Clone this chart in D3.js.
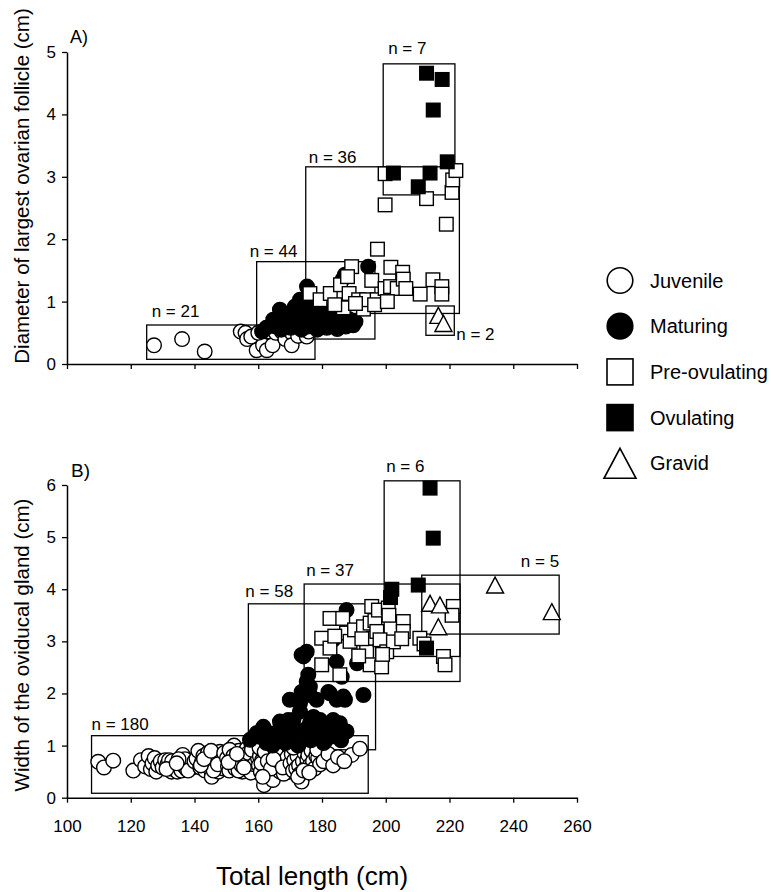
<!DOCTYPE html>
<html>
<head>
<meta charset="utf-8">
<script src="https://cdn.jsdelivr.net/npm/d3@7"></script>
<style>
body { margin: 0; background: #fff; }
svg { font-family: "Liberation Sans", Arial, Helvetica, sans-serif; }
</style>
</head>
<body>
<svg width="779" height="892"></svg>
<script>

var lengthTicks = [100, 120, 140, 160, 180, 200, 220, 240, 260];
var follicleTicks = [0, 1, 2, 3, 4, 5];
var glandTicks = [0, 1, 2, 3, 4, 5, 6];
var stages = ["Juvenile", "Maturing", "Pre-ovulating", "Ovulating", "Gravid"];

// panel A : [total length, diameter of largest follicle]
var aJuvenile = [[127.3,0.30],[136.1,0.40],[143.2,0.20],[154.5,0.52],[156.0,0.50],[156.5,0.40],[157.8,0.44],
	[159.5,0.22],[161.5,0.30],[162.7,0.22],[163.5,0.52],[164.5,0.30],[165.5,0.50],[167.4,0.52],[168.5,0.40],
	[170.5,0.50],[170.5,0.30],[172.5,0.45],[175.2,0.44],[175.8,0.52],[160.0,0.50]];
var aMaturing = [[161.2,0.52],[162.5,0.58],[164.7,0.71],[165.5,0.60],[166.8,0.87],[167.2,0.55],[168.0,0.72],
	[168.8,0.62],[169.5,0.80],[170.2,0.58],[170.8,0.70],[171.5,0.92],[172.0,0.62],[172.6,0.78],[173.1,1.03],
	[173.5,0.55],[174.2,0.68],[174.8,0.88],[175.3,1.24],[175.6,0.60],[176.2,0.75],[176.8,0.98],[177.4,0.65],
	[178.0,0.82],[178.5,0.55],[179.0,0.70],[179.6,0.90],[180.2,0.62],[180.8,0.78],[181.5,0.58],[182.0,0.68],
	[182.6,0.85],[183.2,0.62],[184.0,0.74],[184.8,0.56],[185.5,0.66],[186.2,0.80],[187.2,1.43],[187.5,0.60],
	[188.4,0.72],[189.8,0.62],[190.5,0.68],[186.5,1.36],[194.5,1.56]];
var aPreOvulating = [[176.2,1.13],[179.4,1.03],[182.6,1.13],[185.8,1.27],[186.7,0.90],[188.5,1.13],[189.3,1.56],
	[191.5,1.03],[193.0,0.88],[194.0,1.03],[195.6,1.34],[197.3,1.03],[197.4,1.84],[199.8,1.21],[201.6,1.55],
	[201.5,1.24],[203.6,1.21],[205.3,1.47],[205.5,1.36],[206.3,1.21],[210.8,1.12],[214.8,1.35],[217.6,1.24],
	[217.6,1.12],[212.8,2.65],[199.8,2.55],[219.0,2.24],[220.8,2.75],[221.0,2.95],[199.8,3.05],[222.0,3.10],
	[184.0,0.95],[190.5,0.97],[196.5,0.95],[188.0,1.40],[200.5,1.00]];
var aOvulating = [[212.8,4.66],[217.7,4.56],[214.9,4.07],[219.3,3.24],[202.4,3.06],[213.9,3.06],[210.2,2.84]];
var aGravid = [[216.5,0.78],[218.1,0.65]];
// boxes : [length min, length max, value min, value max, n]
var aBoxes = [[125.0,177.8,0.075,0.625,21],[159.5,196.6,0.40,1.64,44],[174.9,223.1,0.81,3.16,36],
	[199.2,221.7,2.71,4.81,7],[212.6,221.5,0.46,0.93,2]];

// panel B : [total length, width of oviducal gland]
var bJuvenile = [[109.8,0.69],[111.6,0.58],[114.5,0.71],
	[120.8,0.52],[123.2,0.72],[124.5,0.60],[125.6,0.80],[126.3,0.55],[126.8,0.66],[127.5,0.76],[128.0,0.50],
	[128.6,0.62],[129.4,0.70],[130.0,0.58],[130.8,0.72],[131.5,0.64],[132.0,0.72],
	[132.8,0.50],[133.4,0.55],[134.0,0.60],[134.6,0.50],[135.2,0.68],[135.9,0.52],[136.3,0.82],[136.8,0.60],
	[137.5,0.55],[138.2,0.66],[138.8,0.72],[139.3,0.58],[139.8,0.62],[133.0,0.70],[137.0,0.74],[131.2,0.55],
	[135.0,0.74],[138.0,0.52],[140.0,0.70],[134.4,0.66],
	[140.6,0.75],[141.2,0.90],[141.8,0.58],[142.3,0.68],[142.8,0.80],[143.3,0.52],[143.8,0.62],[144.2,0.86],
	[144.6,0.74],[145.0,0.55],[145.4,0.40],[145.9,0.84],[146.3,0.66],[146.7,0.58],[147.1,0.78],[147.5,0.50],
	[147.9,0.70],[148.3,0.62],[148.7,0.82],[149.1,0.56],[149.5,0.72],[149.9,0.64],[144.0,0.70],[146.0,0.52],
	[148.0,0.88],[142.0,0.62],[143.0,0.74],[145.2,0.90],[147.3,0.64],[149.3,0.86],
	[150.2,0.76],[150.5,0.60],[150.9,0.52],[151.3,0.70],[151.7,0.84],[152.0,0.64],[152.4,1.00],[152.8,0.56],
	[153.1,0.74],[153.5,0.66],[153.9,0.90],[154.2,0.60],[154.6,0.78],[155.0,0.50],[155.3,0.70],[155.7,0.84],
	[156.1,0.62],[156.4,0.94],[156.8,0.56],[157.2,0.72],[157.5,0.66],[157.9,1.02],[158.3,0.58],[158.6,0.80],
	[159.0,0.70],[159.4,0.50],[159.7,0.88],[151.0,0.92],[152.2,0.80],[153.8,0.52],[154.8,0.62],[155.8,0.74],
	[156.9,0.86],[157.7,0.48],[158.8,0.64],[159.9,0.76],[150.7,0.68],[153.3,0.84],[155.5,0.58],[158.0,0.92],
	[160.2,0.62],[160.5,0.80],[160.8,0.50],[161.2,0.72],[161.6,0.90],[161.8,0.24],[162.2,0.58],[162.5,0.66],
	[162.9,0.84],[163.2,0.52],[163.5,0.74],[163.9,0.44],[164.2,0.62],[164.6,0.34],[165.0,0.80],[165.3,0.56],
	[165.7,0.70],[166.1,0.92],[166.4,0.62],[166.8,0.50],[167.2,0.76],[167.5,0.66],[167.9,0.84],[168.3,0.56],
	[168.6,0.72],[169.0,0.62],[169.4,0.90],[169.7,0.50],[160.4,0.96],[161.0,0.66],[162.0,0.88],[163.0,0.70],
	[164.0,0.56],[165.5,0.88],[166.9,0.68],[168.0,0.46],[169.2,0.78],[161.4,0.40],[164.8,0.74],[167.7,0.58],
	[170.1,0.66],[170.5,0.84],[170.9,0.52],[171.3,0.72],[171.9,0.56],[172.3,0.80],[172.8,0.62],[173.2,0.46],
	[173.6,0.31],[174.0,0.70],[174.5,0.86],[175.0,0.58],[175.4,0.74],[175.7,0.82],[176.2,0.62],[176.7,0.90],
	[177.2,0.70],[177.7,0.56],[178.2,0.80],[178.8,0.76],[179.4,0.64],[171.0,0.96],[172.5,0.40],[174.2,0.52],
	[176.0,0.48],[178.5,0.92],
	[180.5,0.70],[182.0,0.84],[183.5,0.62],[185.0,0.78],[189.3,0.82],[191.9,0.94],[187.0,0.70]];
var bMaturing = [[157.4,1.11],[159.5,1.24],[160.5,1.17],[161.6,1.36],[162.1,1.30],[162.6,1.05],[163.7,1.17],
	[164.5,1.00],[165.5,1.24],[166.8,1.11],[166.8,1.46],[167.9,1.43],[168.5,1.05],[169.4,1.49],[169.9,1.88],
	[170.0,1.30],[170.5,1.10],[171.0,1.49],[171.9,1.17],[172.5,1.00],[173.1,1.65],[173.1,1.81],[173.6,2.03],
	[173.6,2.74],[174.2,2.71],[174.5,1.30],[175.2,2.23],[175.2,2.80],[175.7,2.36],[176.2,1.97],[176.2,1.43],
	[176.2,2.13],[176.5,1.10],[177.1,1.14],[177.3,1.55],[178.3,1.88],[178.5,1.25],[179.4,1.49],[180.4,1.43],
	[180.5,1.05],[181.3,1.11],[182.0,2.03],[182.5,2.00],[182.5,1.30],[183.5,1.49],[183.5,3.03],[184.6,1.88],
	[184.6,1.17],[184.6,2.61],[185.6,1.43],[186.2,2.32],[186.7,1.94],[187.2,1.88],[187.7,1.27],[187.7,3.60],
	[191.0,2.58],[193.0,1.97],[186.0,1.10]];
var bPreOvulating = [[179.9,3.06],[179.9,2.55],[182.5,3.44],[182.5,2.87],[185.6,2.36],[186.5,3.44],[187.7,3.16],
	[188.8,3.00],[190.2,3.22],[193.0,3.28],[194.0,2.80],[195.1,3.35],[195.1,2.55],[195.6,3.67],[196.1,3.06],
	[196.6,3.40],[197.2,3.19],[197.7,3.60],[198.2,3.03],[198.7,2.51],[200.3,2.80],[200.8,3.64],[201.0,3.50],
	[202.4,2.99],[205.5,3.38],[205.5,3.19],[205.0,3.05],[210.7,3.06],[212.0,2.95],[221.2,3.67],[220.8,3.50],
	[218.1,2.71],[218.6,2.55],[191.5,2.72],[184.0,3.10],[192.5,3.05],[199.0,2.75]];
var bOvulating = [[213.9,5.94],[214.9,4.98],[210.2,4.08],[201.9,4.00],[201.5,3.84],[212.8,2.87]];
var bGravid = [[234.3,4.08],[252.1,3.57],[213.9,3.73],[217.0,3.70],[216.5,3.28]];
var bBoxes = [[107.7,194.5,0.085,1.19,180],[156.9,196.8,0.92,3.72,58],[174.4,223.3,2.23,4.10,37],
	[199.5,223.3,2.71,6.08,6],[211.3,254.4,3.14,4.27,5]];

// where each "n =" label sits : corner of its box, dx, dy
var aLabelPlace = [["tl",5,-8],["tl",-7,-5],["tl",3,-4],["tl",5,-10],["br",2,5]];
var bLabelPlace = [["tl",0,-6],["tl",-3,-7],["tl",2,-8],["tl",2,-9],["tr",0,-8]];

function triangle(w, h) {
	return "M0," + (-h/2) + "L" + (w/2) + "," + (h/2) + "L" + (-w/2) + "," + (h/2) + "Z";
}

function main() {

	var svg = d3.select("svg");
	var x = d3.scaleLinear().domain([100, 260]).range([67, 577]);
	var yA = d3.scaleLinear().domain([0, 5]).range([364, 52]);
	var yB = d3.scaleLinear().domain([0, 6]).range([797.7, 485]);

	function styleAxis(g) {
		g.attr("font-size", 17).attr("font-family", "Liberation Sans, Arial, sans-serif");
		g.select(".domain").attr("stroke-width", 1.5);
		g.selectAll(".tick line").attr("stroke-width", 1.3);
		g.selectAll(".tick text").attr("fill", "#000");
	}

	function panel(y, yTicks, boxes, places, series) {
		var g = svg.append("g");

		g.selectAll(".box").data(boxes).enter().append("rect")
			.attr("x", function(d){ return x(d[0]); })
			.attr("y", function(d){ return y(d[3]); })
			.attr("width", function(d){ return x(d[1]) - x(d[0]); })
			.attr("height", function(d){ return y(d[2]) - y(d[3]); })
			.attr("fill", "none").attr("stroke", "#000").attr("stroke-width", 1.3);

		g.selectAll(".nlab").data(boxes).enter().append("text")
			.attr("font-size", 17)
			.attr("text-anchor", function(d, i){ return places[i][0] == "tr" ? "end" : "start"; })
			.attr("x", function(d, i){
				var p = places[i];
				return (p[0] == "tl" ? x(d[0]) : x(d[1])) + p[1];
			})
			.attr("y", function(d, i){
				var p = places[i];
				return (p[0] == "br" ? y(d[2]) : y(d[3])) + p[2];
			})
			.text(function(d){ return "n = " + d[4]; });

		series.forEach(function(s) {
			var pts = g.append("g")
				.attr("fill", s.filled ? "#000" : "#fff")
				.attr("stroke", "#000").attr("stroke-width", 1.4)
				.selectAll("path").data(s.data).enter();
			if (s.shape == "circle") {
				pts.append("circle")
					.attr("cx", function(d){ return x(d[0]); })
					.attr("cy", function(d){ return y(d[1]); })
					.attr("r", 7.3);
			} else if (s.shape == "square") {
				pts.append("rect")
					.attr("x", function(d){ return x(d[0]) - 6.8; })
					.attr("y", function(d){ return y(d[1]) - 6.8; })
					.attr("width", 13.6).attr("height", 13.6);
			} else {
				pts.append("path")
					.attr("transform", function(d){ return "translate(" + x(d[0]) + "," + y(d[1]) + ")"; })
					.attr("d", triangle(17, 16));
			}
		});

		g.append("g").attr("transform", "translate(67,0)")
			.call(d3.axisLeft(y).tickValues(yTicks).tickSize(5).tickSizeOuter(0).tickPadding(6).tickFormat(d3.format("d")))
			.call(styleAxis);
		return g;
	}

	panel(yA, follicleTicks, aBoxes, aLabelPlace, [
		{data: aJuvenile, shape: "circle", filled: false},
		{data: aMaturing, shape: "circle", filled: true},
		{data: aPreOvulating, shape: "square", filled: false},
		{data: aOvulating, shape: "square", filled: true},
		{data: aGravid, shape: "triangle", filled: false}
	]);
	svg.append("g").attr("transform", "translate(0,364)")
		.call(d3.axisBottom(x).tickValues(lengthTicks).tickSize(5).tickSizeOuter(0).tickFormat(""))
		.call(styleAxis);

	panel(yB, glandTicks, bBoxes, bLabelPlace, [
		{data: bJuvenile, shape: "circle", filled: false},
		{data: bMaturing, shape: "circle", filled: true},
		{data: bPreOvulating, shape: "square", filled: false},
		{data: bOvulating, shape: "square", filled: true},
		{data: bGravid, shape: "triangle", filled: false}
	]);
	svg.append("g").attr("transform", "translate(0,797.7)")
		.call(d3.axisBottom(x).tickValues(lengthTicks).tickSize(5).tickSizeOuter(0).tickPadding(17).tickFormat(d3.format("d")))
		.call(styleAxis);

	// panel letters and axis titles
	svg.append("text").attr("x", 70).attr("y", 43).attr("font-size", 18).text("A)");
	svg.append("text").attr("x", 71).attr("y", 477).attr("font-size", 19).text("B)");
	svg.append("text").attr("transform", "translate(29,186) rotate(-90)").attr("text-anchor", "middle")
		.attr("font-size", 20.5).text("Diameter of largest ovarian follicle (cm)");
	svg.append("text").attr("transform", "translate(29,645) rotate(-90)").attr("text-anchor", "middle")
		.attr("font-size", 20.5).text("Width of the oviducal gland (cm)");
	svg.append("text").attr("x", 312).attr("y", 885).attr("text-anchor", "middle")
		.attr("font-size", 26).text("Total length (cm)");

	// legend
	var leg = svg.append("g");
	var shapes = ["circle", "circle", "square", "square", "triangle"];
	var filled = [false, true, false, true, false];
	stages.forEach(function(s, i) {
		var cy = 280.5 + i * 45.7;
		var sym;
		if (shapes[i] == "circle") sym = leg.append("circle").attr("cx", 620).attr("cy", cy).attr("r", 12.8);
		else if (shapes[i] == "square") sym = leg.append("rect").attr("x", 607).attr("y", cy - 13).attr("width", 26).attr("height", 26);
		else sym = leg.append("path").attr("transform", "translate(620," + cy + ")").attr("d", triangle(32, 30));
		sym.attr("fill", filled[i] ? "#000" : "#fff").attr("stroke", "#000").attr("stroke-width", 1.6);
		leg.append("text").attr("x", 650).attr("y", cy + 7).attr("font-size", 20).text(s);
	});
}

main();
</script>
</body>
</html>
